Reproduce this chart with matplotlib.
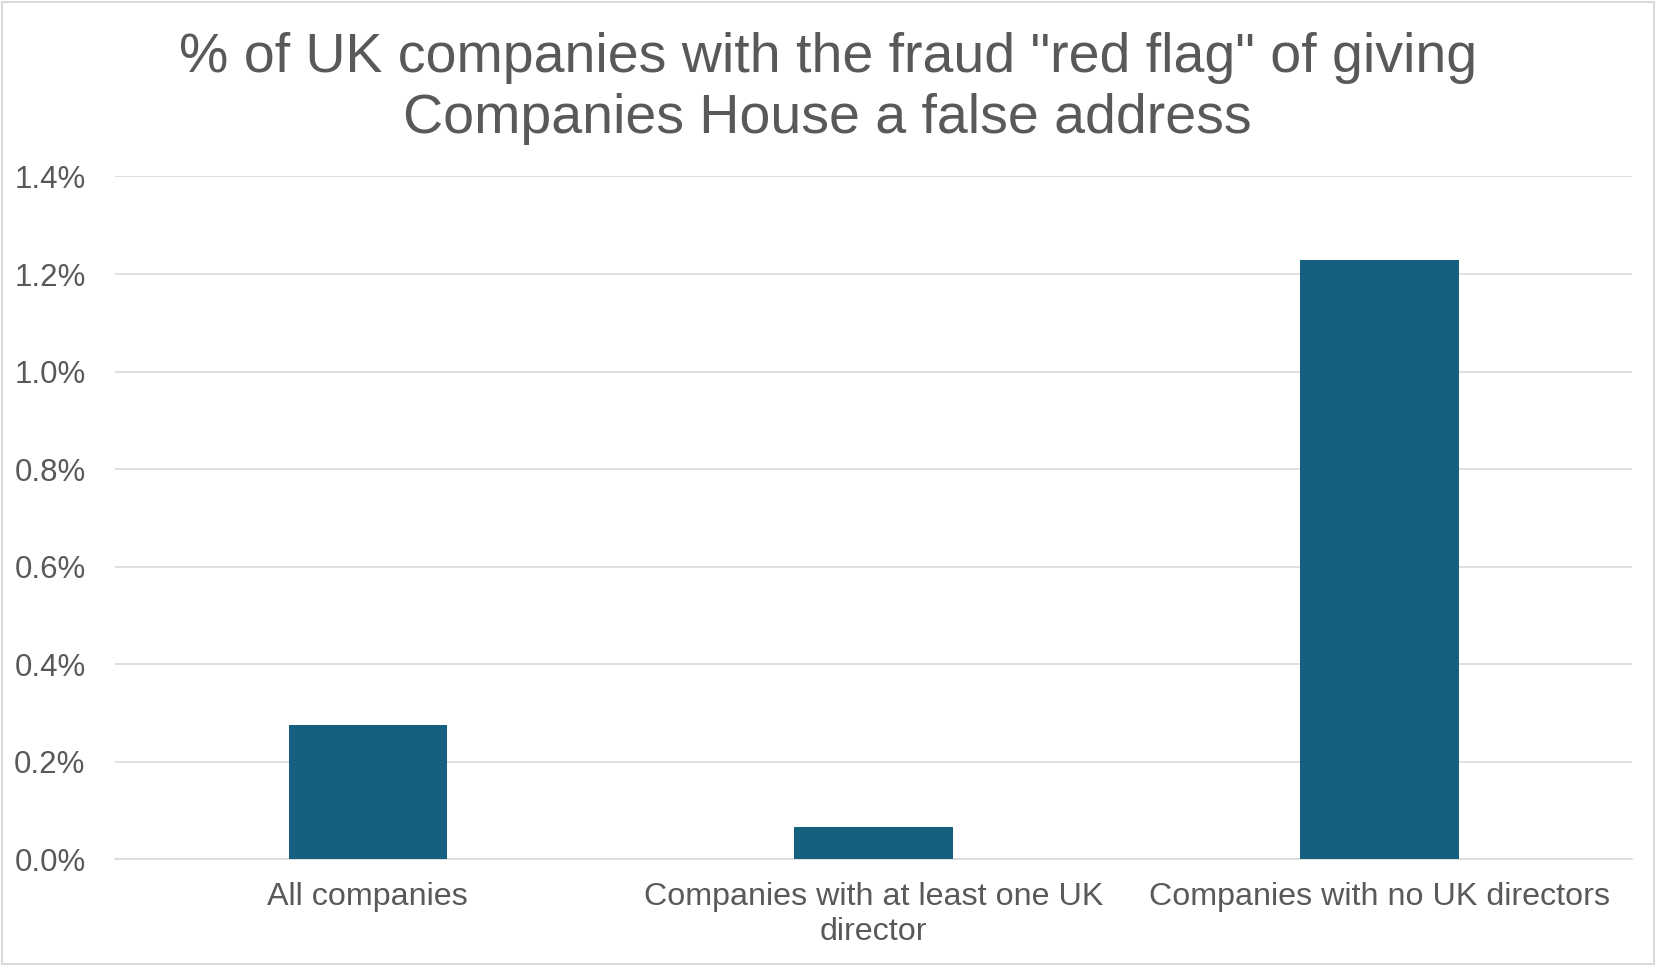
import matplotlib.pyplot as plt
from matplotlib.patches import Rectangle
from matplotlib.ticker import FuncFormatter

plt.rcParams['font.family'] = ['Liberation Sans', 'DejaVu Sans']

# Daten
categories = ["All companies", "Companies with at least one UK\ndirector", "Companies with no UK directors"]
values = [0.275, 0.067, 1.229]  # Prozent
y_ticks = [0.0, 0.2, 0.4, 0.6, 0.8, 1.0, 1.2, 1.4]

title_line1 = '% of UK companies with the fraud "red flag" of giving'
title_line2 = 'Companies House a false address'

text_color = '#595959'
grid_color = '#D9D9D9'
bar_color = '#16607F'

fig = plt.figure(figsize=(16.56, 9.66), dpi=100)
ax = fig.add_axes([0.0693, 0.1103, 0.9165, 0.707])

x = range(len(categories))
ax.bar(x, values, width=0.313, color=bar_color, zorder=3)

ax.set_xlim(-0.5, len(categories) - 0.5)
ax.set_ylim(0, 1.4)
ax.set_yticks(y_ticks)
ax.yaxis.set_major_formatter(FuncFormatter(lambda v, p: f"{v:.1f}%"))
ax.set_xticks(list(x))
ax.set_xticklabels(categories, linespacing=1.2)

ax.grid(axis='y', color=grid_color, linewidth=1.2, zorder=0)
ax.tick_params(axis='y', length=0, pad=21, labelsize=22.5, labelcolor=text_color)
ax.tick_params(axis='x', length=0, pad=16.5, labelsize=23.2, labelcolor=text_color)
for s in ['top', 'right', 'left']:
    ax.spines[s].set_visible(False)
ax.spines['bottom'].set_color(grid_color)
ax.spines['bottom'].set_linewidth(1.2)

# Titel
fig.text(0.4998, 1 - 71.9 / 966, title_line1, ha='center', va='baseline', fontsize=40, color=text_color)
fig.text(0.4998, 1 - 133.2 / 966, title_line2, ha='center', va='baseline', fontsize=40, color=text_color)

# Rahmen
fig.patches.append(Rectangle((0.0015, 0.002), 0.997, 0.996, transform=fig.transFigure,
                             fill=False, edgecolor=grid_color, linewidth=1.5))

fig.savefig('out.png', dpi=100)
